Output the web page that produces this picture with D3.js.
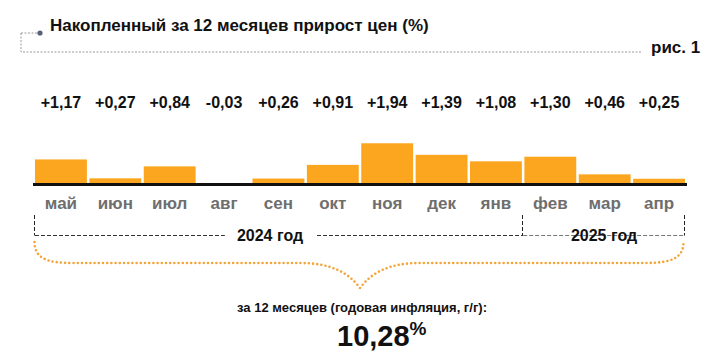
<!DOCTYPE html>
<html><head><meta charset="utf-8">
<script src="https://cdn.jsdelivr.net/npm/d3@7"></script>
<style>
html,body{margin:0;padding:0;background:#fff;}
svg{display:block;}
text{font-family:"Liberation Sans Narrow","Arial Narrow","Liberation Sans",Arial,sans-serif;font-weight:bold;}
</style></head>
<body>
<svg id="chart" width="720" height="358"></svg>
<script>
const months = ["май","июн","июл","авг","сен","окт","ноя","дек","янв","фев","мар","апр"];
const values = [1.17,0.27,0.84,-0.03,0.26,0.91,1.94,1.39,1.08,1.30,0.46,0.25];
const valueLabels = ["+1,17","+0,27","+0,84","-0,03","+0,26","+0,91","+1,94","+1,39","+1,08","+1,30","+0,46","+0,25"];
const years = [{label:"2024 год", from:"май", to:"янв"},{label:"2025 год", from:"фев", to:"апр"}];
const title = "Накопленный за 12 месяцев прирост цен (%)";
const figLabel = "рис. 1";
const totalCaption = "за 12 месяцев (годовая инфляция, г/г):";
const totalValue = "10,28";

const svg = d3.select("#chart");
const x = d3.scaleBand().domain(months).range([35,685]).paddingInner(0.046).paddingOuter(0);
const y = d3.scaleLinear().domain([0,2]).range([184,142]);

// header
svg.append("path").attr("d","M21,33 L37,33 M21,33 L21,52 L641,52")
  .attr("fill","none").attr("stroke","#9a9a9a").attr("stroke-width",1).attr("stroke-dasharray","2,1.5");
svg.append("circle").attr("cx",40).attr("cy",33).attr("r",2.6).attr("fill","#55627a");
svg.append("text").attr("x",50).attr("y",31).attr("font-size",17).attr("fill","#111").text(title);
svg.append("text").attr("x",651).attr("y",53).attr("font-size",17).attr("fill","#111").text(figLabel);

// bars
svg.append("g").selectAll("rect").data(values).join("rect")
  .attr("x",(d,i)=>x(months[i])).attr("width",x.bandwidth())
  .attr("y",d=>y(Math.max(0,d))).attr("height",d=>Math.abs(y(d)-y(0)))
  .attr("fill","#fca61f");
svg.append("line").attr("x1",33).attr("x2",687).attr("y1",y(0)+0.5).attr("y2",y(0)+0.5)
  .attr("stroke","#111").attr("stroke-width",3);

// value labels
svg.append("g").selectAll("text").data(valueLabels).join("text")
  .attr("x",(d,i)=>x(months[i])+x.bandwidth()/2).attr("y",108)
  .attr("text-anchor","middle").attr("font-size",16).attr("fill","#111").text(d=>d);

// month labels
svg.append("g").selectAll("text").data(months).join("text")
  .attr("x",d=>x(d)+x.bandwidth()/2).attr("y",209)
  .attr("text-anchor","middle").attr("font-size",17).attr("fill","#6e6e6e").text(d=>d);

// year brackets
const yl = 235.5;
const gY = svg.append("g");
const edges = [x(months[0]), (x("янв")+x.bandwidth()+x("фев"))/2, x(months[11])+x.bandwidth()];
edges.forEach(e=>{
  gY.append("line").attr("x1",Math.round(e)-0.5).attr("x2",Math.round(e)-0.5).attr("y1",215).attr("y2",yl)
    .attr("stroke","#222").attr("stroke-width",1).attr("stroke-dasharray","4,2");
});
years.forEach((yr,i)=>{
  const x0 = i===0?edges[0]:edges[1];
  const x1 = i===0?edges[1]:edges[2];
  gY.append("line").attr("x1",x0).attr("x2",x1).attr("y1",yl).attr("y2",yl)
    .attr("stroke",i===0?"#333":"#777").attr("stroke-width",1).attr("stroke-dasharray","4,2");
  const cx = i===0?270:604;
  const t = gY.append("text").attr("x",cx).attr("y",241).attr("text-anchor","middle")
    .attr("font-size",16).attr("fill","#111").text(yr.label);
  const bb = t.node().getBBox();
  gY.insert("rect","text").attr("x",bb.x-12).attr("y",yl-3).attr("width",bb.width+24).attr("height",6).attr("fill","#fff");
});

// brace
const L = edges[0]-0.5, R = edges[2]-1.5, mid = 360;
const brace = `M${L},242 C${L},258 ${L+12},263 ${L+38},263 L${mid-60},263 C${mid-30},263 ${mid-12},272 ${mid},288 C${mid+12},272 ${mid+30},263 ${mid+60},263 L${R-38},263 C${R-12},263 ${R},258 ${R},242`;
svg.append("path").attr("d",brace).attr("fill","none").attr("stroke","#f3a53a")
  .attr("stroke-width",2.6).attr("stroke-dasharray","0,4.2").attr("stroke-linecap","round");

// totals
svg.append("text").attr("x",362).attr("y",312).attr("text-anchor","middle").attr("font-size",13).attr("fill","#111").text(totalCaption);
const tv = svg.append("text").attr("x",337).attr("y",346).attr("fill","#111");
tv.append("tspan").attr("font-size",29).text(totalValue);
tv.append("tspan").attr("font-size",19).attr("dy",-11).text("%");
</script>
</body></html>
